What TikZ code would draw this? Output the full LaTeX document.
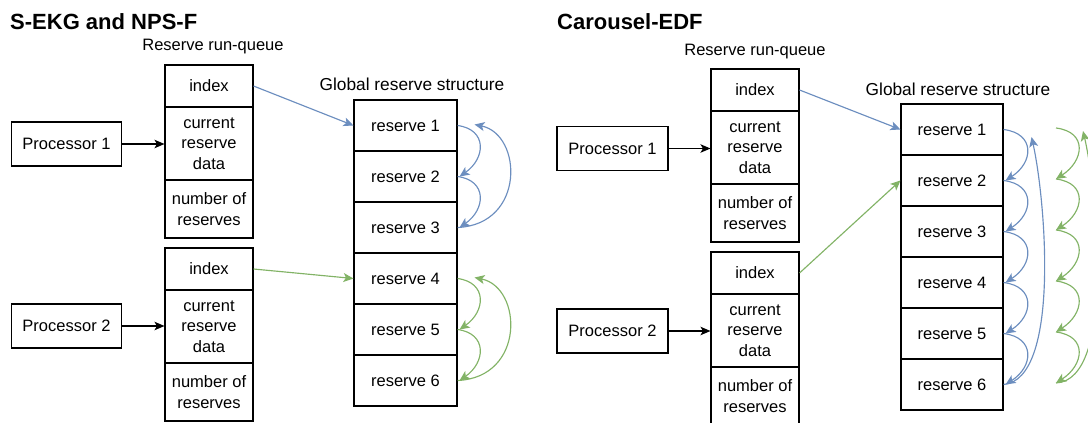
\documentclass[tikz,border=0pt]{standalone}
\usepackage{fontspec}
\setmainfont{Liberation Sans}
\usetikzlibrary{arrows.meta}
\definecolor{dblue}{HTML}{6C8EBF}
\definecolor{dgreen}{HTML}{82B366}
\newcommand{\labfont}{\fontsize{16.5}{20.5}\selectfont}
\begin{document}
\begin{tikzpicture}[x=1pt,y=-1pt,
  rq/.style={draw=black,line width=1.1pt,minimum width=88pt,inner sep=0pt,align=center,font=\labfont},
  proc/.style={draw=black,line width=1.1pt,minimum width=110pt,minimum height=44pt,inner sep=0pt,font=\labfont},
  res/.style={draw=black,line width=1.1pt,minimum width=103pt,minimum height=51pt,inner sep=0pt,font=\labfont},
  ttl/.style={anchor=west,inner sep=0pt,font=\fontsize{22}{24}\selectfont\bfseries},
  hdr/.style={inner sep=0pt,font=\labfont},
  ghdr/.style={inner sep=0pt,font=\fontsize{17.3}{20}\selectfont},
  parr/.style={line width=1.1pt,-{Stealth[length=10pt,width=8.5pt,inset=2.5pt]}},
  barr/.style={draw=dblue,line width=1.15pt,-{Stealth[length=10pt,width=9pt,inset=2.5pt,fill=dblue]}},
  garr/.style={draw=dgreen,line width=1.15pt,-{Stealth[length=10pt,width=9pt,inset=2.5pt,fill=dgreen]}}]
\useasboundingbox (0,0) rectangle (1088,423);
\clip (0,0) rectangle (1088,423);

% ---------------- Left panel ----------------
\node[ttl] (Lt) at (10,22) {S-EKG and NPS-F};
\node[hdr] (Lh) at (213,47) {Reserve run-queue};
\node[ghdr] (Lg) at (412,84) {Global reserve structure};

\node[rq,minimum height=42pt] (Li1) at (209,86) {index};
\node[rq,minimum height=73pt] (Lc1) at (209,143.5) {current\\reserve\\data};
\node[rq,minimum height=58pt] (Ln1) at (209,209) {number of\\reserves};
\node[rq,minimum height=42pt] (Li2) at (209,269) {index};
\node[rq,minimum height=73pt] (Lc2) at (209,326.5) {current\\reserve\\data};
\node[rq,minimum height=58pt] (Ln2) at (209,392) {number of\\reserves};

\node[proc] (Lp1) at (66.5,144) {Processor 1};
\node[proc] (Lp2) at (66.5,326) {Processor 2};

\foreach \i in {1,...,6}
  \node[res] (Lr\i) at (405.5,{125.5+51*(\i-1)}) {reserve \i};

\draw[parr] (Lp1.east) -- (Lp1.east -| Lc1.west);
\draw[parr] (Lp2.east) -- (Lp2.east -| Lc2.west);
\draw[barr] (Li1.east) -- (Lr1.west);
\draw[garr] (Li2.east) -- (Lr4.west);

\draw[barr] (Lr1.east) .. controls +(30,4) and +(26,-18) .. ([xshift=2pt]Lr2.east);
\draw[barr] (Lr2.east) .. controls +(30,4) and +(26,-18) .. ([xshift=2pt]Lr3.east);
\draw[barr] (Lr3.east) .. controls +(68,-3) and +(48,10) .. ([xshift=17pt,yshift=1pt]Lr1.east);
\draw[garr] (Lr4.east) .. controls +(30,4) and +(26,-18) .. ([xshift=2pt]Lr5.east);
\draw[garr] (Lr5.east) .. controls +(30,4) and +(26,-18) .. ([xshift=2pt]Lr6.east);
\draw[garr] (Lr6.east) .. controls +(68,-3) and +(48,10) .. ([xshift=17pt,yshift=1pt]Lr4.east);

% ---------------- Right panel ----------------
\node[ttl] (Rt) at (557,22) {Carousel-EDF};
\node[hdr] (Rh) at (755,52) {Reserve run-queue};
\node[ghdr] (Rg) at (958,89) {Global reserve structure};

\node[rq,minimum height=42pt] (Ri1) at (755,90) {index};
\node[rq,minimum height=73pt] (Rc1) at (755,147.5) {current\\reserve\\data};
\node[rq,minimum height=58pt] (Rn1) at (755,213) {number of\\reserves};
\node[rq,minimum height=42pt] (Ri2) at (755,273) {index};
\node[rq,minimum height=73pt] (Rc2) at (755,330.5) {current\\reserve\\data};
\node[rq,minimum height=58pt] (Rn2) at (755,396) {number of\\reserves};

\node[proc,minimum width=111pt] (Rp1) at (612.5,148.5) {Processor 1};
\node[proc,minimum width=111pt] (Rp2) at (612.5,331) {Processor 2};

\foreach \i in {1,...,6}
  \node[res,minimum width=102pt] (Rr\i) at (952,{129.5+51*(\i-1)}) {reserve \i};

\draw[parr] (Rp1.east) -- (Rp1.east -| Rc1.west);
\draw[parr] (Rp2.east) -- (Rp2.east -| Rc2.west);
\draw[barr] (Ri1.east) -- (Rr1.west);
\draw[garr] (Ri2.east) -- (Rr2.west);

\foreach \i/\j in {1/2,2/3,3/4,4/5,5/6}
  \draw[barr] (Rr\i.east) .. controls +(32,4) and +(28,-18) .. ([xshift=2pt]Rr\j.east);
\draw[barr] (Rr6.east) .. controls +(57,-5) and +(14,63) .. ([xshift=28pt]Rr1.north east |- 0,137);

\foreach \i in {1,...,6}
  \coordinate (G\i) at (1056,{128+51*(\i-1)});
\coordinate (Gtop) at (1083,131);
\foreach \i/\j in {1/2,2/3,3/4,4/5,5/6}
  \draw[garr] (G\i) .. controls +(32,4) and +(28,-18) .. (G\j);
\draw[garr] (G6) .. controls +(60,-3) and +(14,60) .. (Gtop);
\end{tikzpicture}
\end{document}
